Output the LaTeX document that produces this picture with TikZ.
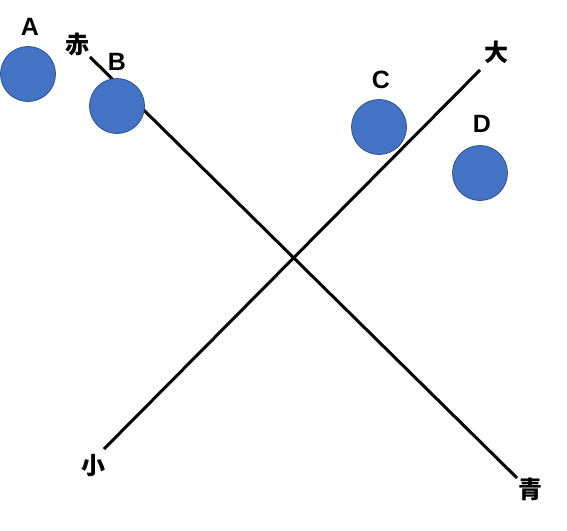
\documentclass[tikz,border=0pt]{standalone}
\usepackage{fontspec}
\setmainfont{Liberation Sans}
\newfontfamily\cjk{Noto Sans CJK JP}
\usetikzlibrary{positioning}
\definecolor{dotblue}{HTML}{4472C4}
\definecolor{dotedge}{HTML}{2F528F}

\begin{document}
\begin{tikzpicture}[x=1pt, y=-1pt,
    dot/.style={circle, fill=dotblue, draw=dotedge, line width=0.8pt,
                minimum size=55pt, inner sep=0pt},
    letter/.style={inner sep=0pt, font=\bfseries\fontsize{25}{25}\selectfont},
    kanji/.style={inner sep=0pt, font=\cjk\bfseries\fontsize{24}{24}\selectfont},
    axisline/.style={line width=3pt, black}]
  \useasboundingbox (0,0) rectangle (567,530);
  % the two crossing axes
  \coordinate (akaEnd) at (90,57);
  \coordinate (aoEnd) at (517,478);
  \coordinate (shoEnd) at (104,449);
  \coordinate (daiEnd) at (480,70);
  \draw[axisline] (akaEnd) -- (aoEnd);
  \draw[axisline] (shoEnd) -- (daiEnd);
  \node[kanji] (aka) at (77,44) {赤};
  \node[kanji] (ao) at (530,489) {青};
  \node[kanji] (sho) at (93,466) {小};
  \node[kanji] (dai) at (496,52) {大};
  % the four dots
  \node[dot] (dotA) at (28,74) {};
  \node[dot] (dotB) at (117,106) {};
  \node[dot] (dotC) at (379,127) {};
  \node[dot] (dotD) at (480,173) {};
  \node[letter] (labA) at (30,27) {A};
  \node[letter] (labB) at (117,62) {B};
  \node[letter] (labC) at (381,80) {C};
  \node[letter] (labD) at (482,124) {D};
\end{tikzpicture}
\end{document}
